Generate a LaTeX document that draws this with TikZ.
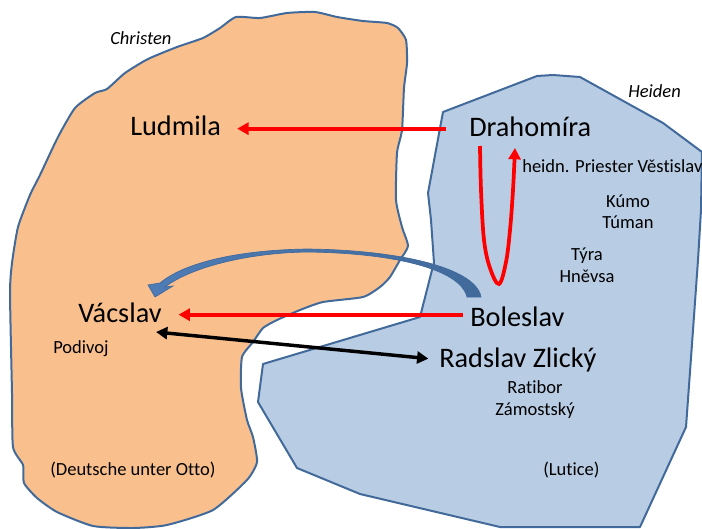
\documentclass[tikz,border=0pt]{standalone}
\usepackage{fontspec}
\setmainfont{Carlito}[Ligatures=CommonOff]
\usetikzlibrary{arrows.meta}

\definecolor{landedge}{RGB}{65,106,155}
\definecolor{christenfill}{RGB}{249,192,142}
\definecolor{heidenfill}{RGB}{184,204,228}
\definecolor{swingfill}{RGB}{78,124,182}

\begin{document}
\begin{tikzpicture}[
    x=0.75pt, y=-0.75pt,    % coordinates in reference pixels
    >={Triangle[length=8.5pt, width=9pt]},
    land/.style={draw=landedge, line width=1.5pt, line join=round},
    bigname/.style={anchor=base west, inner sep=0pt, font=\fontsize{21.2}{22}\selectfont, text height=12pt, text depth=1pt},
    smallname/.style={anchor=base, inner sep=0pt, font=\fontsize{13.9}{15}\selectfont},
    smallleft/.style={smallname, anchor=base west},
    redarrow/.style={->, red, line width=2.8pt},
    blackarrow/.style={<->, black, line width=2.6pt}
]
    \useasboundingbox (0,0) rectangle (702,528);

    % --- lands ---
    \draw [land, fill=christenfill, smooth cycle, tension=0.35] plot coordinates {
        (236,17) (260,18) (287,13) (315,12) (337,17) (363,21) (387,23) (398,28)
        (406,40) (407,63) (404,88) (402,130) (397,153) (396,200) (402,227) (408,246)
        (400,260) (390,277) (380,287) (363,297) (323,302) (300,310) (277,320) (263,328)
        (253,342) (242,357) (241,388) (247,420) (253,437) (257,462) (247,480) (213,510)
        (167,525) (133,528) (93,526) (57,512) (37,498) (24,483) (23,465) (13,447)
        (12,393) (10,293) (12,263) (18,227) (30,195) (40,175) (58,137) (75,108)
        (95,93) (107,89) (125,73) (148,59) (177,47) (203,38) (220,28)
    };
    \draw [land, fill=heidenfill] (443,112) -- (537,76) -- (553,75) -- (580,77)
        -- (663,123) -- (702,152) -- (701,210) -- (698,260) -- (693,330) -- (686,427)
        -- (640,527) -- (500,527) -- (360,494) -- (297,468) -- (258,402) -- (263,364)
        -- (420,317) -- (432,270) -- (434,263) -- (431,220) -- (428,193) -- cycle;

    % --- names ---
    \node [bigname] (ludmila) at (130,135) {Ludmila};
    \node [bigname] (drahomira) at (469,136) {Drahomíra};
    \node [bigname] (vacslav) at (78,322) {Vácslav};
    \node [bigname] (boleslav) at (470,326) {Boleslav};
    \node [bigname] (radslav) at (439,367) {Radslav Zlický};

    % --- small labels ---
    \node [smallleft, font=\fontsize{13.9}{15}\selectfont\itshape] (christen) at (110,45) {Christen};
    \node [smallleft, font=\fontsize{13.9}{15}\selectfont\itshape] (heiden) at (628,97) {Heiden};
    \node [smallleft] (priester) at (522,172) {heidn. Priester Věstislav};
    \node [smallname] (kumo) at (628,207) {Kúmo};
    \node [smallname] (tuman) at (628,228) {Túman};
    \node [smallname] (tyra) at (587,260) {Týra};
    \node [smallname] (hnevsa) at (587,282) {Hněvsa};
    \node [smallleft] (podivoj) at (53,353) {Podivoj};
    \node [smallleft] (deutsche) at (50,475) {(Deutsche unter Otto)};
    \node [smallname] (ratibor) at (535,393) {Ratibor};
    \node [smallname] (zamostsky) at (535,415) {Zámostský};
    \node [smallleft] (lutice) at (543,475) {(Lutice)};

    % --- curved blue arrow ---
    \draw [landedge, line width=0.5pt, left color=swingfill, right color=landedge, shading angle=90]
        (481,297) .. controls (476,268) and (400,250) .. (307,249)
        .. controls (240,250) and (185,262) .. (160,283)
        -- (148,285) -- (155,297) -- (173,286) -- (165,287)
        .. controls (190,268) and (245,253) .. (307,252)
        .. controls (390,253) and (460,268) .. (467,297) -- cycle;

    % --- arrows ---
    \draw [redarrow, shorten >=12pt, shorten <=17pt] (drahomira.west) -- (drahomira.west -| ludmila.east);
    \draw [redarrow, shorten >=12.5pt, shorten <=5pt] (boleslav.west |- vacslav.east) -- (vacslav.east);
    \coordinate (vacslavfoot) at (156,332);
    \draw [blackarrow, shorten >=8pt] (vacslavfoot) -- (radslav.west);

    % Drahomíra's loop
    \draw [redarrow, smooth, tension=0.6] plot coordinates {
        (480,146) (481,190) (484,240) (490,268) (499,284) (506,262) (510,230) (513,190) (515,148)
    };
\end{tikzpicture}
\end{document}
